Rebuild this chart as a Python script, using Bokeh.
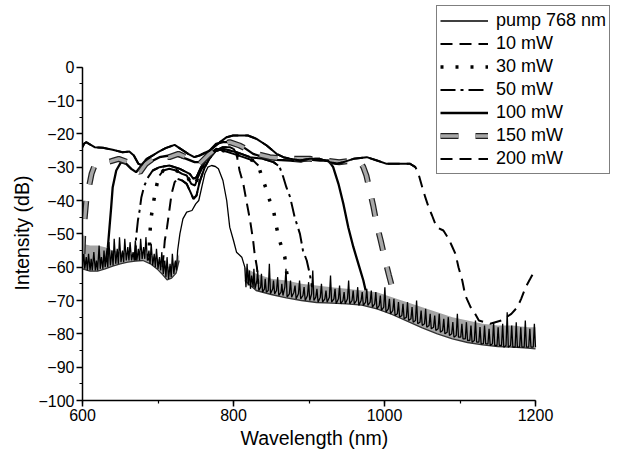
from bokeh.plotting import figure
from bokeh.models import Range1d, SingleIntervalTicker, Legend, LegendItem, Title
from bokeh.embed import file_html
from bokeh.resources import INLINE

# ---------------- data ----------------
x_label = "Wavelength (nm)"
y_label = "Intensity (dB)"
series_labels = ["pump 768 nm", "10 mW", "30 mW", "50 mW", "100 mW", "150 mW", "200 mW"]

pump_wl = [600, 601.5, 603, 605, 606.5, 608, 610, 611.5, 613, 615,
           617, 618.5, 620, 622, 623.5, 625, 627, 628.5, 630, 632,
           633.5, 635, 637, 639, 640.5, 642, 644, 646, 647.5, 649,
           651, 653, 654.5, 656, 658, 660, 661.5, 663, 665, 667,
           668.5, 670, 672, 674, 675.5, 677, 679, 681, 682.5, 684,
           686, 688, 689.5, 691, 693, 695, 696.5, 698, 700, 702,
           703.5, 705, 707, 709, 710.5, 712, 714, 716, 717.5, 719,
           721, 723, 724.5, 726,
           729, 733, 738, 745, 750, 754, 758, 762, 766, 771,
           776, 780, 786, 791, 795, 800, 804, 811, 815,
           816.5, 818, 819.5, 821, 822.5, 824, 826, 827, 828.5, 831,
           832, 833.5, 836, 837, 838.5, 841, 842, 843.5, 846, 847.5,
           849, 852, 853, 854.5, 857, 858.5, 860, 863, 864, 865.5,
           868, 869.5, 871, 874, 875.5, 877, 880, 881.5, 883, 886,
           887.5, 889, 892, 893.5, 895, 898, 899.5, 901, 903.5, 905,
           906.5, 909, 910.5, 912, 915, 916.5, 918, 921, 922.5, 924,
           927, 928.5, 930, 933, 934.5, 936, 939, 940.5, 942, 945,
           946.5, 948, 951, 952.5, 954, 957, 958.5, 960, 963, 964.5,
           966, 969, 970.5, 972, 975, 976.5, 978, 981, 982.5, 984,
           987, 988.5, 990, 993, 994.5, 996, 999, 1000.5, 1002, 1005,
           1006.5, 1008, 1011, 1012.5, 1014, 1017, 1018.5, 1020, 1023, 1024.5,
           1026, 1029, 1030.5, 1032, 1035, 1036.5, 1038, 1041, 1042.5, 1044,
           1047, 1048.5, 1050, 1053, 1054.5, 1056, 1059, 1060.5, 1062, 1065,
           1066.5, 1068, 1071, 1072.5, 1074, 1077, 1078.5, 1080, 1083, 1084.5,
           1086, 1089, 1090.5, 1092, 1095, 1096.5, 1098, 1101, 1102.5, 1104,
           1107, 1108.5, 1110, 1113, 1114.5, 1116, 1119, 1120.5, 1122, 1125,
           1126.5, 1128, 1131, 1132.5, 1134, 1137, 1138.5, 1140, 1143, 1144.5,
           1146, 1149, 1150.5, 1152, 1155, 1156.5, 1158, 1161, 1162.5, 1164,
           1167, 1168.5, 1170, 1173, 1174.5, 1176, 1179, 1180.5, 1182, 1185,
           1186.5, 1188, 1191, 1192.5, 1194, 1197, 1198.5, 1200]
pump_db = [-60, -55, -60.5, -57, -61, -56, -61, -57.5, -61, -55.5,
           -61, -58, -61, -53.5, -60.5, -57, -60.5, -55, -60, -56.5,
           -60, -52.5, -59.5, -55, -59.5, -51.5, -59, -54.5, -59, -51,
           -58.5, -55, -58.5, -51.5, -58, -54, -58, -52.5, -58, -55.5,
           -58, -52, -58, -54.5, -58, -51.5, -57.5, -54, -57.5, -51,
           -58, -55, -59, -53, -59.5, -56, -60, -54.5, -60.5, -57,
           -61, -55.5, -62, -58, -63, -57, -63.5, -59, -63, -56,
           -62, -58, -61, -55,
           -50, -45.5, -43.5, -43, -41, -40, -36, -32, -30, -29.5,
           -29.8, -30.5, -34, -40, -48, -52, -55.5, -57, -60,
           -66, -59, -65.5, -61, -66.5, -62.5, -66, -60.5, -66.5, -64,
           -61, -67, -66, -62, -67.5, -66.5, -63.5, -67.5, -67, -59,
           -68, -66.5, -64, -68, -67, -63, -68.5, -67.5, -65, -68.5,
           -66, -60.5, -69, -68, -64, -69, -67.5, -65.5, -69.5, -68,
           -64, -69.5, -68.5, -66, -70, -68.5, -64.5, -70, -68, -61,
           -70, -69, -66.5, -70.5, -69, -65, -70.5, -69.5, -67, -70.5,
           -69, -62.5, -70.5, -69.5, -66.5, -71, -69.5, -65.5, -71, -70,
           -67.5, -71, -69.5, -64, -71, -70, -67, -71, -70, -66,
           -71.5, -70, -67.5, -71.5, -70.5, -66.5, -71.5, -70.5, -67, -72,
           -71, -67.5, -72.5, -71.5, -68.5, -73, -72, -66, -73.5, -72.5,
           -69.5, -74, -73, -69.5, -74.5, -74, -70.5, -75, -74.5, -71,
           -75.5, -75, -70.5, -76, -75.5, -72, -76.5, -76, -70, -77,
           -76.5, -73, -77.5, -77, -72.5, -78, -77.5, -74, -78.5, -78,
           -74.5, -79, -78.5, -74, -79.5, -79, -75.5, -80, -79.5, -75,
           -80.5, -80, -76.5, -81, -80.5, -74, -81, -81, -77, -81.5,
           -81.5, -76.5, -82, -82, -77.5, -82.5, -82, -76, -82.5, -82.5,
           -78, -83, -83, -77.5, -83, -83, -78.5, -83.5, -83, -76.5,
           -83.5, -83.5, -78, -83.5, -83.5, -77, -84, -83.5, -73.5, -84,
           -83.5, -77.5, -84, -84, -76.5, -84, -84, -78, -84, -84,
           -76, -84, -84, -78.5, -84, -84, -77, -84]

mw10_wl = [706, 709, 712, 715, 718, 722, 726, 732, 738, 743,
           747, 751, 755, 762, 768, 777, 786, 795, 800, 804,
           808, 813, 817, 822, 826, 828, 831, 833]
mw10_db = [-60, -52, -48, -43, -38, -34.5, -33.5, -34, -35, -37.5,
           -39.5, -38.5, -34.5, -30, -27.5, -25, -24, -24, -24.5, -26,
           -31, -35, -40, -46, -52, -56, -60, -65]

mw30_wl = [688, 689, 691, 693, 695.6, 698.7, 702, 707, 715, 724,
           732, 738, 744, 749, 753, 760, 768, 777, 786, 800,
           813, 826, 833, 837, 844, 848, 853, 857, 861, 868,
           870, 873]
mw30_db = [-58, -50.5, -45, -42, -38.5, -35, -32.5, -31, -30.5, -31,
           -32, -32.5, -35, -35.5, -33, -29.5, -26, -24.5, -25, -26,
           -27, -28, -29.5, -32.5, -37, -40, -43, -48, -52, -57,
           -61, -65]

mw50_wl = [670, 671, 673.4, 675.6, 678, 682, 687, 693, 702, 715,
           729, 742, 747, 751, 757, 764, 773, 786, 804, 822,
           839, 853, 859, 862, 866, 870, 875, 881, 888, 892,
           897, 901, 904]
mw50_db = [-58, -51, -46, -43, -39, -35.5, -33, -31, -30, -29.5,
           -30.5, -32, -33.5, -33, -30, -27.5, -25.5, -24.5, -25.5, -27,
           -27.5, -28.5, -29.5, -30.5, -33, -36, -39, -45, -50, -55,
           -58, -62, -66]

mw100_wl = [631, 633.6, 635.8, 638, 640, 644.7, 651, 658, 664.6, 671,
            678, 689, 702, 715, 724, 737.6, 748.6, 755, 768.5, 777,
            786, 799.5, 813, 826, 839, 857, 875, 890, 901, 914.5,
            925.6, 929, 932, 939, 945.5, 952, 958.8, 965.4, 972, 975]
mw100_db = [-58, -54, -48, -42, -36, -31, -28.5, -29, -30.5, -31.5,
            -29.5, -28.5, -27, -26.5, -26.5, -27.5, -28.5, -28.5, -25, -23,
            -22.5, -22.5, -24, -26, -27, -27.8, -28, -28.3, -27.7, -28,
            -28, -29, -30, -35, -41, -48, -54, -59, -64, -67]

mw150_wl = [600, 601, 603, 605, 608, 612, 616, 627, 638, 648,
            660, 668, 676, 684, 693, 704, 715, 727, 737, 746,
            755, 768.5, 782, 795, 808, 830, 848, 870, 901, 920,
            940, 960, 968, 972, 976, 981, 985, 990, 995, 1001,
            1006, 1010]
mw150_db = [-56, -50, -45, -40, -36.5, -32, -29.5, -28.8, -28.2, -27.5,
            -28.5, -30.5, -31.5, -29, -27.5, -26.5, -27, -26, -27, -28.5,
            -29, -26, -23.5, -22.5, -23.5, -26, -27, -27.5, -27.5, -28,
            -28.5, -28, -28.5, -30, -32.5, -37.5, -41.5, -47.5, -52, -58,
            -62.5, -66]

mw200_wl = [600, 602, 604.8, 616, 627, 640, 653, 662, 668, 674,
            678, 685, 693, 700, 710, 722, 730, 740, 748, 755,
            768.5, 782, 791, 799.5, 819, 830.5, 844, 857, 866, 875,
            888, 901, 914.5, 928, 937, 945.5, 959, 976.5, 990, 1003,
            1021, 1034, 1041, 1045, 1050, 1054, 1058.4, 1063, 1069, 1078,
            1085, 1089, 1094, 1098, 1103, 1107, 1114, 1120, 1125, 1140,
            1155, 1168, 1176, 1181, 1187, 1193, 1200]
mw200_db = [-24, -23, -22.5, -24, -24.2, -24.8, -25.5, -25.3, -26.5, -29,
            -29.3, -27.5, -26.5, -25.5, -24.3, -23.3, -24.5, -26, -27, -26.5,
            -25, -22.5, -21, -20.5, -20.5, -21.5, -23.5, -26, -27, -27.5,
            -28, -27.5, -27.5, -28.5, -29, -28.5, -27.5, -27, -28, -29,
            -29, -29, -30, -32, -36, -39, -42, -44.5, -48, -49,
            -51.5, -53.5, -56, -60, -64, -68.5, -72, -74, -76, -77,
            -76, -74, -72, -69.5, -66, -63.5, -60.5]

# grey noise-floor band (two parts)
floor_left_wl = [600, 610, 620, 630, 640, 650, 660, 670, 680, 690,
                 700, 706, 712, 718, 724, 728]
floor_left_lo = [-60.5, -61.2, -61.2, -60.5, -59.7, -59, -58.5, -58.2, -58, -59,
                 -60.8, -62.2, -63.8, -63.3, -61.8, -58]
floor_left_hi = [-53, -53.5, -53.5, -54, -55, -55.5, -56, -56, -55.5, -56.5,
                 -57.5, -58.5, -60, -59.5, -58, -56]

floor_right_wl = [815, 830, 850, 870, 890, 910, 930, 950, 970, 990,
                  1010, 1030, 1050, 1070, 1090, 1110, 1130, 1150, 1170, 1190,
                  1200]
floor_right_lo = [-64, -67, -68.2, -69.2, -70, -70.6, -70.8, -71, -71.4, -72.5,
                  -74.2, -76.2, -78.2, -80, -81.5, -82.6, -83.3, -83.8, -84, -84.3,
                  -84.5]
floor_right_hi = [-60, -62, -63.5, -64, -65, -65.5, -66, -66.5, -67, -67.5,
                  -69, -70.5, -72, -73.5, -75, -76, -77, -77.5, -77.5, -78,
                  -78]

# flat tops that print as solid lines in the original
solid_spans = {"10 mW": (726, 800), "30 mW": (702, 833), "50 mW": (693, 859), "200 mW": (600, 1041)}

# ---------------- figure ----------------
FONT = "Liberation Sans"
p = figure(width=625, height=451, output_backend="svg", toolbar_location=None,
           x_range=Range1d(600, 1319.2), y_range=Range1d(-100, 20.0),
           min_border_left=82, min_border_right=0, min_border_top=0, min_border_bottom=51)
p.outline_line_color = None
p.grid.visible = False
p.background_fill_color = "white"
p.border_fill_color = "white"

p.xaxis.ticker = SingleIntervalTicker(interval=200, num_minor_ticks=2)
p.yaxis.ticker = SingleIntervalTicker(interval=10, num_minor_ticks=2)
p.xaxis.bounds = (600, 1200)
p.yaxis.bounds = (-100, 0)
for ax in (p.xaxis[0], p.yaxis[0]):
    ax.axis_line_color = "black"
    ax.axis_line_width = 1.5
    ax.major_tick_line_color = "black"
    ax.major_tick_line_width = 1.5
    ax.minor_tick_line_color = "black"
    ax.minor_tick_line_width = 1.2
    ax.major_tick_in = 0
    ax.major_tick_out = 6
    ax.minor_tick_in = 0
    ax.minor_tick_out = 3
    ax.major_label_text_font = FONT
    ax.major_label_text_font_size = "16px"
    ax.major_label_text_color = "black"
    ax.major_label_standoff = 2

# axis titles as side titles, placed so they centre on the drawn axes
xt = Title(text=x_label, align="left", offset=158, standoff=3,
           text_font=FONT, text_font_size="19.5px", text_font_style="normal", text_color="black")
yt = Title(text=y_label, align="left", offset=110, standoff=6,
           text_font=FONT, text_font_size="19.5px", text_font_style="normal", text_color="black")
p.add_layout(xt, "below")
p.add_layout(yt, "left")

# noise floor
p.varea(x=floor_left_wl, y1=floor_left_lo, y2=floor_left_hi, fill_color="#a4a4a4")
p.varea(x=floor_right_wl, y1=floor_right_lo, y2=floor_right_hi, fill_color="#a4a4a4")
p.line(floor_left_wl, floor_left_lo, line_color="#333333", line_width=1.3)
p.line(floor_right_wl, floor_right_lo, line_color="#333333", line_width=1.3)

def sub(wl, db, span):
    lo, hi = span
    xs = [w for w in wl if lo <= w <= hi]
    ys = [d for w, d in zip(wl, db) if lo <= w <= hi]
    return xs, ys

r_pump = p.line(pump_wl, pump_db, line_color="black", line_width=1.3)

r10 = p.line(mw10_wl, mw10_db, line_color="black", line_width=2, line_dash="12 7")
p.line(*sub(mw10_wl, mw10_db, solid_spans["10 mW"]), line_color="black", line_width=2)

r30 = p.line(mw30_wl, mw30_db, line_color="black", line_width=3.5, line_dash="3 12")
p.line(*sub(mw30_wl, mw30_db, solid_spans["30 mW"]), line_color="black", line_width=2)

r50 = p.line(mw50_wl, mw50_db, line_color="black", line_width=2, line_dash="15 5 3 5")
p.line(*sub(mw50_wl, mw50_db, solid_spans["50 mW"]), line_color="black", line_width=2)

r100 = p.line(mw100_wl, mw100_db, line_color="black", line_width=2.3)

r150a = p.line(mw150_wl, mw150_db, line_color="#222222", line_width=6, line_dash="18 17")
r150b = p.line(mw150_wl, mw150_db, line_color="#a8a8a8", line_width=3.5, line_dash="18 17")

r200 = p.line(mw200_wl, mw200_db, line_color="black", line_width=2, line_dash="12 7")
p.line(*sub(mw200_wl, mw200_db, solid_spans["200 mW"]), line_color="black", line_width=2)

legend = Legend(items=[
    LegendItem(label=series_labels[0], renderers=[r_pump]),
    LegendItem(label=series_labels[1], renderers=[r10]),
    LegendItem(label=series_labels[2], renderers=[r30]),
    LegendItem(label=series_labels[3], renderers=[r50]),
    LegendItem(label=series_labels[4], renderers=[r100]),
    LegendItem(label=series_labels[5], renderers=[r150a, r150b]),
    LegendItem(label=series_labels[6], renderers=[r200]),
], location=(354, 226))
legend.label_text_font = FONT
legend.label_text_font_size = "18px"
legend.label_text_color = "black"
legend.glyph_width = 48
legend.glyph_height = 23
legend.label_height = 23
legend.spacing = 0
legend.padding = 3
legend.margin = 0
legend.label_standoff = 8
legend.border_line_color = "black"
legend.border_line_width = 1
legend.background_fill_color = "white"
legend.background_fill_alpha = 1
p.add_layout(legend)

open("out.html", "w").write(file_html(p, INLINE))
